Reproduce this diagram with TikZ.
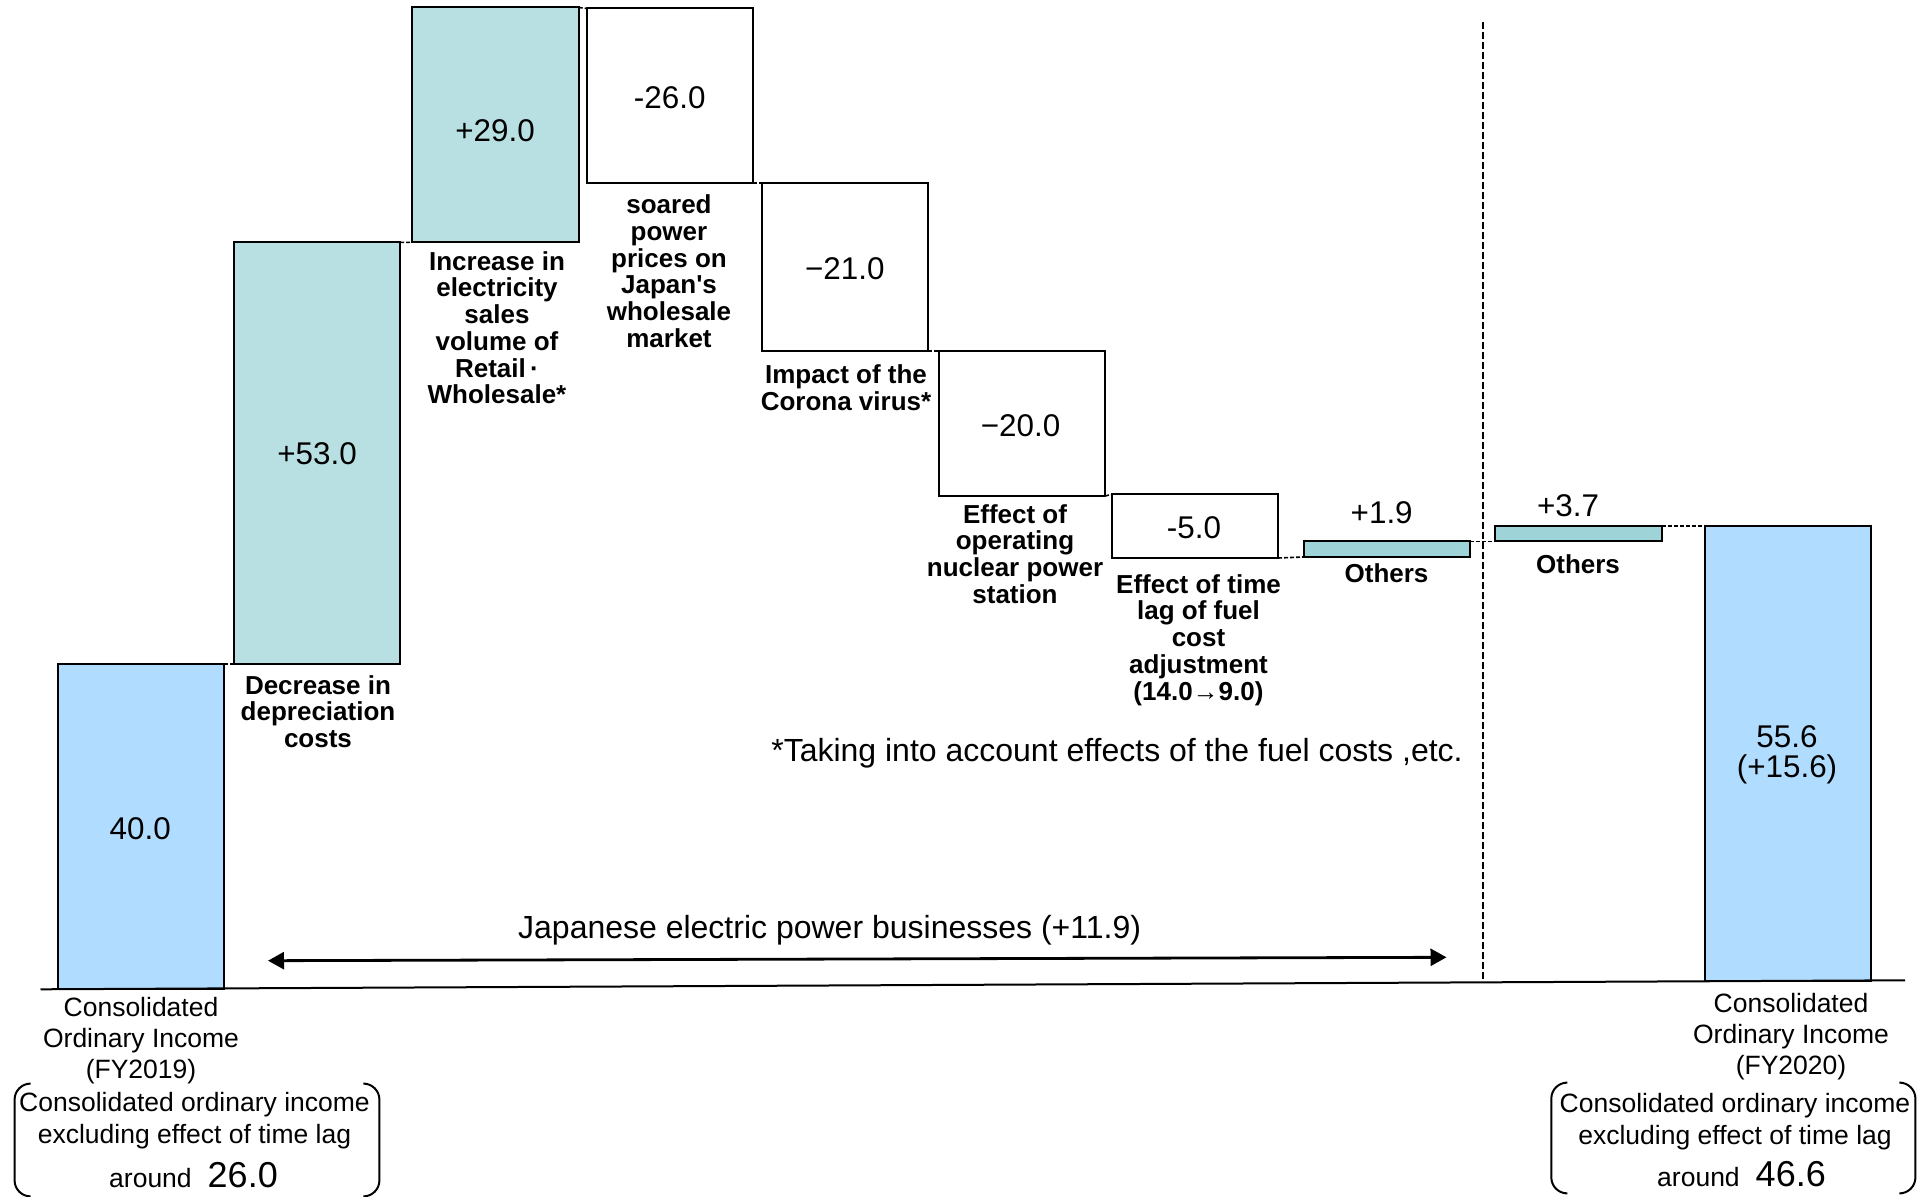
\documentclass[tikz,border=0pt]{standalone}
\usepackage{fontspec}
\setmainfont{Liberation Sans}
\newfontfamily\nolig{Liberation Sans}
\usetikzlibrary{fit,arrows.meta}
\definecolor{blueBar}{RGB}{176,220,255}
\definecolor{tealBar}{RGB}{184,224,226}
\definecolor{tealSmall}{RGB}{158,212,216}
\begin{document}
\begin{tikzpicture}[x=0.5pt,y=-0.5pt,
  bar/.style={draw=black, line width=1pt, inner sep=0pt, outer sep=0pt},
  num/.style={font=\fontsize{15.7pt}{15pt}\selectfont, anchor=base, inner sep=0pt, align=center},
  note/.style={font=\fontsize{16pt}{16pt}\selectfont, anchor=base, inner sep=0pt},
  lbl/.style={font=\bfseries\fontsize{13pt}{13.35pt}\selectfont, align=center, anchor=north, inner sep=0pt},
  capt/.style={font=\fontsize{13.25pt}{15.5pt}\selectfont, align=center, anchor=north, inner sep=0pt},
  conn/.style={dash pattern=on 2pt off 1pt, line width=0.8pt},
  divider/.style={dash pattern=on 3.5pt off 1.5pt, line width=1pt, draw=black},
  brk/.style={line width=1pt, rounded corners=8pt}
]
\useasboundingbox (0,0) rectangle (1927,1197);

% bars
\node[bar, fill=blueBar, fit={(57.5,664) (223.7,989)}] (b40) {};
\node[bar, fill=tealBar, fit={(233.5,242.4) (400,664)}] (b53) {};
\node[bar, fill=tealBar, fit={(411.5,7.5) (578.7,242.4)}] (b29) {};
\node[bar, fill=white, fit={(586.6,8.5) (753.2,183)}] (b26) {};
\node[bar, fill=white, fit={(761.8,183) (928.3,351)}] (b21) {};
\node[bar, fill=white, fit={(938.7,351) (1105,496)}] (b20) {};
\node[bar, fill=white, fit={(1111.5,494.5) (1278,558)}] (b5) {};
\node[bar, fill=tealSmall, fit={(1303.5,541.5) (1469.7,557)}] (o1) {};
\node[bar, fill=tealSmall, fit={(1494.6,526) (1661.6,541.5)}] (o2) {};
\node[bar, fill=blueBar, fit={(1704.8,526) (1870.5,981)}] (b56) {};

% connectors between bars
\draw[conn] (b40.north east) -- (b53.south west);
\draw[conn] (b53.north east) -- (b29.south west);
\draw[conn] (b29.north east) -- (b26.north west);
\draw[conn] (b26.south east) -- (b21.north west);
\draw[conn] (b21.south east) -- (b20.north west);
\draw[conn] (b20.south east) -- (b5.north west);
\draw[conn] (b5.south east) -- (o1.south west);
\draw[conn] (o1.north east) -- (o2.south west);
\draw[conn] (o2.north east) -- (b56.north west);

% baseline and divider
\coordinate (bl0) at (40.5,989.3);
\coordinate (bl1) at (1905,980.3);
\draw[line width=1pt] (bl0) -- (bl1);
\coordinate (vd0) at (1482.5,22);
\coordinate (vd1) at (1482.5,982);
\draw[divider] (vd0) -- (vd1);

% span arrow
\coordinate (arL) at (268,960.7);
\coordinate (arR) at (1446.5,957.3);
\draw[line width=1.4pt, {Triangle[length=8pt,width=8.5pt]}-{Triangle[length=8pt,width=8.5pt]}] (arL) -- (arR);
\node[note] (span) at (829.6,938) {Japanese electric power businesses (+11.9)};

% values
\node[num] (v40) at (140.3,839) {40.0};
\node[num] (v53) at (317,465) {+53.0};
\node[num] (v29) at (495,141.7) {+29.0};
\node[num] (v26) at (669.7,108.3) {-26.0};
\node[num] (v21) at (844.8,280) {−21.0};
\node[num] (v20) at (1020.5,436.7) {−20.0};
\node[num] (v5) at (1194,539) {-5.0};
\node[num] (vo1) at (1381.7,524) {+1.9};
\node[num] (vo2) at (1568,516.7) {+3.7};
\node[num, anchor=north] (v56) at (1787,725.3) {55.6\\(+15.6)};

% item labels
\node[lbl] (l53) at (318,675) {Decrease in\\depreciation\\costs};
\node[lbl] (l29) at (497,251) {Increase in\\electricity\\sales\\volume of\\Retail\,·\\Wholesale*};
\node[lbl] (l26) at (669,194.5) {soared\\power\\prices on\\Japan{\nolig '}s\\wholesale\\market};
\node[lbl] (l21) at (846,364.5) {Impact of the\\Corona virus*};
\node[lbl] (l20) at (1015,504) {Effect of\\operating\\nuclear power\\station};
\node[lbl] (l5) at (1198.5,574) {Effect of time\\lag of fuel\\cost\\adjustment\\(14.0→9.0)};
\node[lbl] (lo1) at (1386.5,563) {Others};
\node[lbl] (lo2) at (1578,554) {Others};

% footnote
\node[note] (foot) at (1117,761) {*Taking into account effects of the fuel costs ,etc.};

% captions
\node[capt] (c19) at (141,997) {Consolidated\\Ordinary Income\\(FY2019)};
\node[capt] (c20) at (1791,993) {Consolidated\\Ordinary Income\\(FY2020)};

% bracketed notes
\node[inner sep=0pt, fit={(15,1084) (379,1196)}] (brL) {};
\draw[brk] ([xshift=7pt]brL.north west) -- (brL.north west) -- (brL.south west) -- ([xshift=7pt]brL.south west);
\draw[brk] ([xshift=-7pt]brL.north east) -- (brL.north east) -- (brL.south east) -- ([xshift=-7pt]brL.south east);
\node[capt, font=\fontsize{13.25pt}{16pt}\selectfont] (n19) at (194.5,1092) {Consolidated ordinary income\\excluding effect of time lag};
\node[inner sep=0pt, anchor=base, font=\fontsize{13.25pt}{16pt}\selectfont] (a19) at (193.5,1187) {around\hspace{8pt}{\fontsize{18pt}{20pt}\selectfont 26.0}};

\node[inner sep=0pt, fit={(1551.7,1083) (1915,1193)}] (brR) {};
\draw[brk] ([xshift=7pt]brR.north west) -- (brR.north west) -- (brR.south west) -- ([xshift=7pt]brR.south west);
\draw[brk] ([xshift=-7pt]brR.north east) -- (brR.north east) -- (brR.south east) -- ([xshift=-7pt]brR.south east);
\node[capt, font=\fontsize{13.25pt}{16pt}\selectfont] (n20) at (1735,1093) {Consolidated ordinary income\\excluding effect of time lag};
\node[inner sep=0pt, anchor=base, font=\fontsize{13.25pt}{16pt}\selectfont] (a20) at (1741.5,1186) {around\hspace{8pt}{\fontsize{18pt}{20pt}\selectfont 46.6}};
\end{tikzpicture}
\end{document}
